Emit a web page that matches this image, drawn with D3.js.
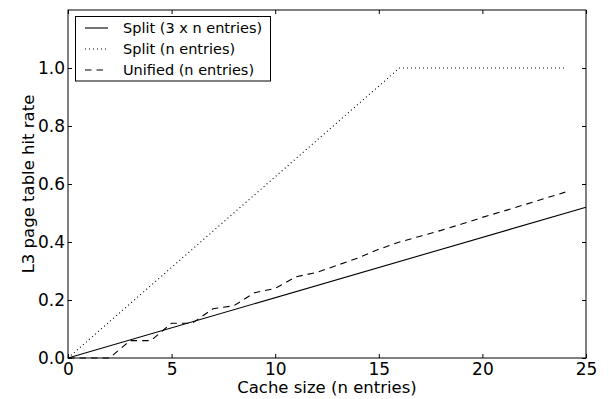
<!DOCTYPE html>
<html><head><meta charset="utf-8">
<script src="https://cdn.jsdelivr.net/npm/d3@7"></script>
<style>body{margin:0;background:#fff}svg{display:block;font-family:"DejaVu Sans",sans-serif}</style>
</head><body><svg id="c" width="609" height="399"></svg>
<script>
const xTicks = [0,5,10,15,20,25];
const yTicks = [0.0,0.2,0.4,0.6,0.8,1.0];
const split3nX = [0,25];
const split3nY = [0,0.52];
const splitNX = [0,16,24];
const splitNY = [0,1.0,1.0];
const unifiedX = [0,1,2,3,4,5,6,7,8,9,10,11,12,13,14,15,16,17,18,19,20,21,22,23,24];
const unifiedY = [0,0,0,0.06,0.06,0.12,0.12,0.17,0.18,0.225,0.24,0.28,0.295,0.32,0.345,0.375,0.40,0.42,0.44,0.462,0.485,0.506,0.528,0.55,0.572];
const seriesNames = ["Split (3 x n entries)","Split (n entries)","Unified (n entries)"];
const dashes = [null,"1,3","6.5,5"];

const svg = d3.select("#c");
const L=68,R=586,T=10,B=358;
const x = d3.scaleLinear().domain([0,25]).range([L,R]);
const y = d3.scaleLinear().domain([0,1.2]).range([B,T]);

const line = d3.line().x(d=>x(d[0])).y(d=>y(d[1]));
const series = [d3.zip(split3nX,split3nY), d3.zip(splitNX,splitNY), d3.zip(unifiedX,unifiedY)];
series.forEach((s,i)=>{
  svg.append("path").attr("d",line(s)).attr("fill","none").attr("stroke","#000")
    .attr("stroke-width",1.1).attr("stroke-dasharray",dashes[i]);
});

// frame
svg.append("rect").attr("x",L).attr("y",T).attr("width",R-L).attr("height",B-T)
  .attr("fill","none").attr("stroke","#000").attr("stroke-width",1);

const tl=4;
const gx = svg.append("g").attr("transform",`translate(0,${B})`)
  .call(d3.axisBottom(x).tickValues(xTicks).tickSize(-tl).tickPadding(5).tickFormat(d3.format("d")));
const gxt = svg.append("g").attr("transform",`translate(0,${T})`)
  .call(d3.axisTop(x).tickValues(xTicks).tickSize(-tl).tickFormat(""));
const gy = svg.append("g").attr("transform",`translate(${L},0)`)
  .call(d3.axisLeft(y).tickValues(yTicks).tickSize(-tl).tickPadding(3).tickFormat(d3.format(".1f")));
const gyr = svg.append("g").attr("transform",`translate(${R},0)`)
  .call(d3.axisRight(y).tickValues(yTicks).tickSize(-tl).tickFormat(""));
[gx,gxt,gy,gyr].forEach(g=>{
  g.select(".domain").remove();
  g.selectAll("line").attr("stroke","#000");
  g.selectAll("text").attr("fill","#000").style("font-size","17px").style("font-family","DejaVu Sans");
});
gx.selectAll("text").attr("dy","0.71em");

svg.append("text").attr("x",(L+R)/2).attr("y",392.5).attr("text-anchor","middle")
  .style("font-size","16.5px").text("Cache size (n entries)");
svg.append("text").attr("transform",`translate(33.5,${(T+B)/2}) rotate(-90)`).attr("text-anchor","middle")
  .style("font-size","16.5px").text("L3 page table hit rate");

// legend
const lg = svg.append("g");
lg.append("rect").attr("x",75.5).attr("y",16.5).attr("width",195).attr("height",64.5)
  .attr("fill","#fff").attr("stroke","#000").attr("stroke-width",1);
seriesNames.forEach((n,i)=>{
  const yy = 28 + i*21;
  lg.append("line").attr("x1",85).attr("x2",108).attr("y1",yy).attr("y2",yy)
    .attr("stroke","#000").attr("stroke-width",1.1).attr("stroke-dasharray",dashes[i]);
  lg.append("text").attr("x",123).attr("y",yy).attr("dy","0.35em")
    .style("font-size","14.5px").text(n);
});
</script></body></html>
